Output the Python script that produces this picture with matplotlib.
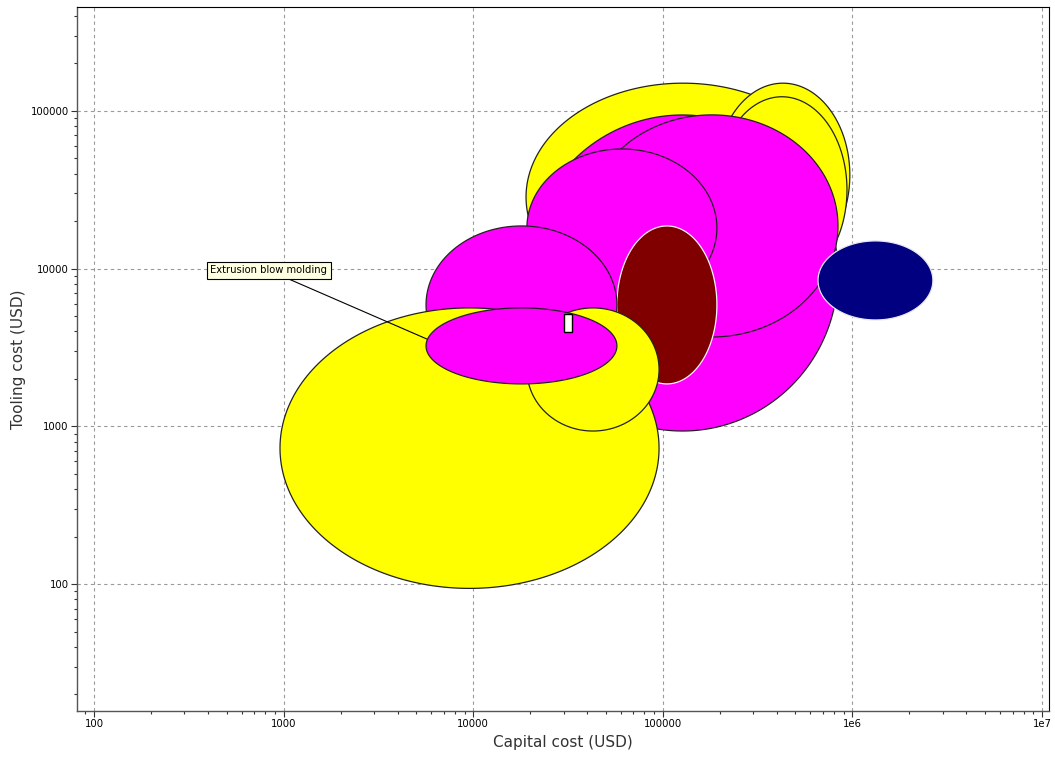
import numpy as np
import matplotlib
matplotlib.use("Agg")
import matplotlib.pyplot as plt
from matplotlib.patches import Rectangle
from matplotlib.ticker import LogLocator, FuncFormatter, NullFormatter

# Ranges of capital cost and tooling cost (USD) for each process bubble,
# listed in drawing order (back to front).
cap_lo = [19000, 191000, 193000, 19200, 39300, 19200, 57300, 5640, 957, 19200, 5640, 659000]
cap_hi = [860000, 970000, 937000, 840000, 840000, 193000, 193000, 57300, 95600, 95600, 57300, 2660000]
tool_lo = [5400, 10260, 8110, 935, 3690, 5720, 1860, 1860, 94, 935, 1860, 4730]
tool_hi = [150000, 150000, 123000, 94300, 94400, 57400, 18660, 18660, 5640, 5640, 5640, 15000]
fills = ["#ffff00", "#ffff00", "#ffff00", "#ff00ff", "#ff00ff", "#ff00ff",
         "#800000", "#ff00ff", "#ffff00", "#ffff00", "#ff00ff", "#000080"]
edges = ["#222222", "#222222", "#222222", "#222222", "#222222", "#222222",
         "#f4f4f4", "#222222", "#222222", "#222222", "#222222", "#e8e8f4"]

# A process with a very narrow range, drawn as a small box
box_cap = [30100, 33200]
box_tool = [3970, 5160]

# Labelled process
label_text = "Extrusion blow molding"
label_pos = [837, 9750]
label_target = [5700, 3580]

x_ticks = [100, 1000, 10000, 100000, 1e6, 1e7]
y_ticks = [100, 1000, 10000, 100000]
x_lim = [81.3, 1.09e7]
y_lim = [15.7, 4.56e5]


def ellipse_points(xlo, xhi, ylo, yhi, n=240):
    cx = 0.5 * (np.log10(xlo) + np.log10(xhi))
    hx = 0.5 * (np.log10(xhi) - np.log10(xlo))
    cy = 0.5 * (np.log10(ylo) + np.log10(yhi))
    hy = 0.5 * (np.log10(yhi) - np.log10(ylo))
    t = np.linspace(0, 2 * np.pi, n)
    return 10 ** (cx + hx * np.cos(t)), 10 ** (cy + hy * np.sin(t))


fig = plt.figure(figsize=(10.55, 7.58), dpi=100)
ax = fig.add_axes([77 / 1055, 1 - 711 / 758, (1049 - 77) / 1055, (711 - 7) / 758])
ax.set_xscale("log")
ax.set_yscale("log")
ax.set_xlim(*x_lim)
ax.set_ylim(*y_lim)

for i in range(len(cap_lo)):
    xs, ys = ellipse_points(cap_lo[i], cap_hi[i], tool_lo[i], tool_hi[i])
    ax.fill(xs, ys, facecolor=fills[i], edgecolor=edges[i], linewidth=0.9, zorder=2 + i * 0.01)

    if i == 10:
        ax.add_patch(Rectangle((box_cap[0], box_tool[0]), box_cap[1] - box_cap[0],
                               box_tool[1] - box_tool[0], facecolor="#fffff4",
                               edgecolor="black", linewidth=1.0, zorder=2.5))

ax.annotate(label_text, xy=label_target, xytext=label_pos,
            fontsize=7.2, ha="center", va="center", zorder=5,
            bbox=dict(boxstyle="square,pad=0.35", facecolor="#ffffe1",
                      edgecolor="black", linewidth=0.8),
            arrowprops=dict(arrowstyle="-", color="black", linewidth=0.8,
                            shrinkA=0, shrinkB=0))

# Axes, ticks and grid
ax.set_xticks(x_ticks)
ax.set_yticks(y_ticks)
ax.xaxis.set_minor_locator(LogLocator(base=10, subs=np.arange(2, 10)))
ax.yaxis.set_minor_locator(LogLocator(base=10, subs=np.arange(2, 10)))
ax.xaxis.set_minor_formatter(NullFormatter())
ax.yaxis.set_minor_formatter(NullFormatter())


def fmt(v, pos):
    return str(int(round(v))) if v < 1e6 else "1e%d" % int(round(np.log10(v)))


ax.xaxis.set_major_formatter(FuncFormatter(fmt))
ax.yaxis.set_major_formatter(FuncFormatter(fmt))
ax.tick_params(which="major", direction="out", length=4, width=0.8, colors="#333333",
               labelsize=7.3, labelcolor="black", pad=2)
ax.tick_params(which="minor", direction="out", length=2.5, width=0.8, colors="#333333")
ax.tick_params(axis="x", which="both", top=False)
ax.tick_params(axis="y", which="both", right=False)

ax.set_axisbelow(True)
ax.grid(True, which="major", linestyle=(0, (3, 3)), color="#9a9a9a", linewidth=0.8)

for side in ["left", "bottom"]:
    ax.spines[side].set_color("#555555")
    ax.spines[side].set_linewidth(1.0)
for side in ["top", "right"]:
    ax.spines[side].set_color("black")
    ax.spines[side].set_linewidth(0.8)

ax.set_xlabel("Capital cost (USD)", fontsize=11, color="#333333", labelpad=4)
ax.set_ylabel("Tooling cost (USD)", fontsize=11, color="#333333", labelpad=3)

fig.savefig("out.png", dpi=100, facecolor="white")
